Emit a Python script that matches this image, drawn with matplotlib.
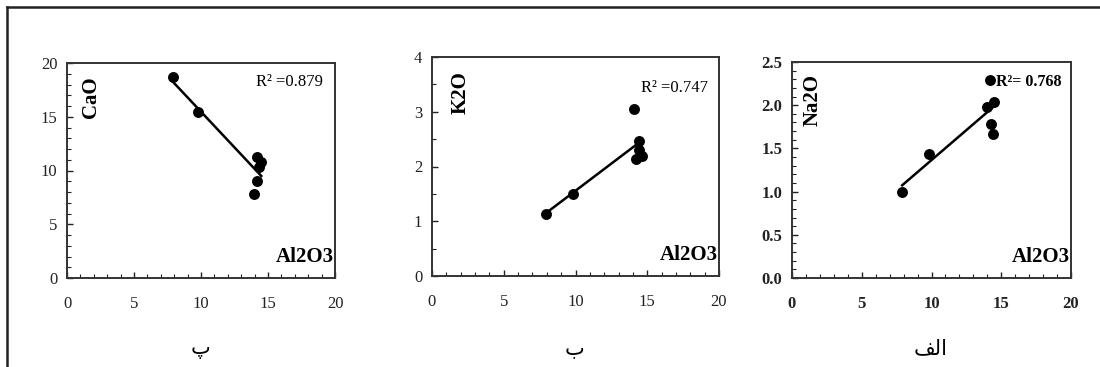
import numpy as np
import matplotlib
matplotlib.use("Agg")
import matplotlib.pyplot as plt
from matplotlib.ticker import MultipleLocator, FormatStrFormatter
from matplotlib.lines import Line2D

# Data (Al2O3 on x)
cao_x = [7.9, 9.75, 14.15, 14.5, 14.35, 14.2, 13.95]
cao_y = [18.7, 15.4, 11.3, 10.8, 10.3, 9.0, 7.8]
k2o_x = [7.95, 9.85, 14.05, 14.45, 14.25, 14.6, 14.4]
k2o_y = [1.13, 1.50, 3.05, 2.47, 2.13, 2.20, 2.30]
na2o_x = [7.9, 9.8, 14.2, 13.95, 14.5, 14.25, 14.4]
na2o_y = [0.99, 1.44, 2.29, 1.98, 2.04, 1.78, 1.67]

y_names = ["CaO", "K2O", "Na2O"]
x_name = "Al2O3"
r2_texts = ["R\u00b2 =0.879", "R\u00b2 =0.747", "R\u00b2= 0.768"]
panel_labels = ["\u067e", "\u0628", "\uFED2\uFEDF\uFE8D"]  # پ , ب , الف (presentation forms)
x_ticks = [0, 5, 10, 15, 20]
y_limits = [(0, 20), (0, 4), (0, 2.5)]
y_major = [5, 1, 0.5]
y_minor = [1, 0.5, 0.1]

serif = "Liberation Serif"
fig = plt.figure(figsize=(11, 3.67), dpi=100)

rects = [
    [67/1100, 1-278/367, 268/1100, 215/367],
    [432/1100, 1-276/367, 287/1100, 219/367],
    [792/1100, 1-278/367, 279/1100, 216/367],
]
data = [(cao_x, cao_y), (k2o_x, k2o_y), (na2o_x, na2o_y)]
name_pos = [(0.09, 0.84), (0.098, 0.836), (0.075, 0.824)]
r2_pos = [(0.955, 0.91, "right"), (0.962, 0.858, "right"), (0.732, 0.907, "left")]
bold_ticks = [False, False, True]
label_x = [201/1100, 575/1100, 931/1100]

for i in range(3):
    ax = fig.add_axes(rects[i])
    x = np.array(data[i][0]); y = np.array(data[i][1])
    ax.scatter(x, y, s=62, color="black", zorder=3, linewidths=0)
    m, b = np.polyfit(x, y, 1)
    xs = np.array([x.min(), x.max()])
    ax.plot(xs, m*xs + b, color="black", lw=1.8, zorder=2)
    ax.set_xlim(0, 20)
    ax.set_ylim(*y_limits[i])
    ax.set_xticks(x_ticks)
    ax.xaxis.set_minor_locator(MultipleLocator(1))
    ax.yaxis.set_major_locator(MultipleLocator(y_major[i]))
    ax.yaxis.set_minor_locator(MultipleLocator(y_minor[i]))
    if i == 2:
        ax.yaxis.set_major_formatter(FormatStrFormatter("%.1f"))
    ax.tick_params(axis="both", which="both", direction="in", colors="#222222")
    ax.tick_params(axis="both", which="major", length=4, width=1)
    ax.tick_params(axis="both", which="minor", length=3, width=0.8)
    ax.tick_params(axis="x", which="major", pad=13)
    ax.tick_params(axis="y", which="major", pad=7)
    fw = "bold" if bold_ticks[i] else "normal"
    for lab in ax.get_xticklabels() + ax.get_yticklabels():
        lab.set_fontfamily(serif)
        lab.set_fontsize(12)
        lab.set_fontweight(fw)
        lab.set_color("#222222")
    for sp in ax.spines.values():
        sp.set_linewidth(1.4)
        sp.set_color("#333333")
    ax.text(name_pos[i][0], name_pos[i][1], y_names[i], rotation=90,
            transform=ax.transAxes, ha="center", va="center",
            fontfamily=serif, fontweight="bold", fontsize=15)
    ax.text(0.995, 0.097, x_name, transform=ax.transAxes, ha="right",
            va="center", fontfamily=serif, fontweight="bold", fontsize=15)
    ax.text(r2_pos[i][0], r2_pos[i][1], r2_texts[i], transform=ax.transAxes,
            ha=r2_pos[i][2], va="center", fontfamily=serif,
            fontsize=11.5 if i == 2 else 12,
            fontweight="bold" if i == 2 else "normal")
    fig.text(label_x[i], 0.05, panel_labels[i], ha="center", va="center",
             fontsize=15, fontfamily="DejaVu Sans", fontweight="normal")

# outer frame (left and top edges)
fig.add_artist(Line2D([7/1100, 7/1100], [0, 1-7/367], transform=fig.transFigure,
                      color="#222222", lw=1.8))
fig.add_artist(Line2D([7/1100, 1], [1-7/367, 1-7/367], transform=fig.transFigure,
                      color="#222222", lw=1.8))

fig.savefig("out.png", dpi=100)
